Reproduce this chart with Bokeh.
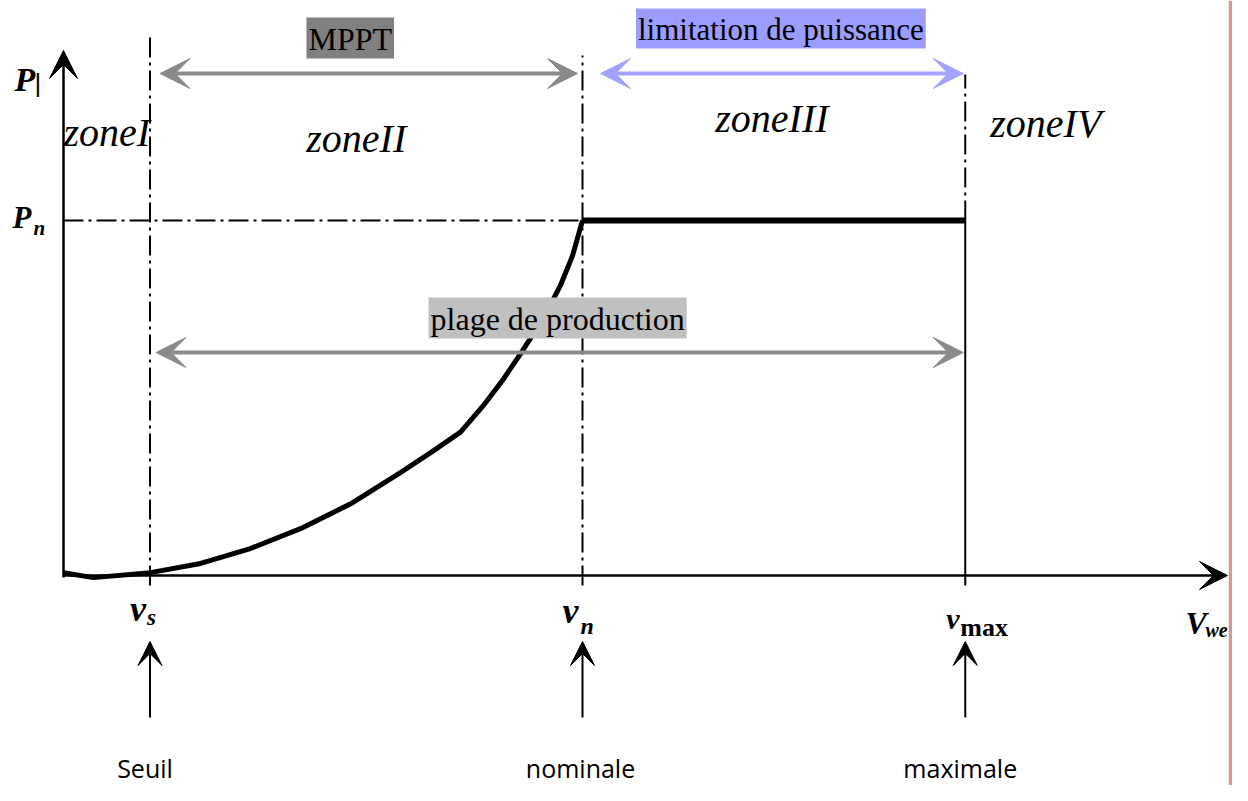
from bokeh.plotting import figure
from bokeh.models import Range1d, Arrow, VeeHead
from bokeh.core.properties import value
from bokeh.embed import file_html
from bokeh.resources import INLINE

# ---------------- data (wind speed in m/s, power in per-unit of Pn) ----------------
v_curve = [0.0, 0.69, 2.01, 3.17, 4.32, 5.48, 6.64, 7.79, 8.49, 9.18, 9.71, 10.17,
           10.57, 10.87, 11.19, 11.49, 11.77, 12.0]
p_curve = [0.008, -0.006, 0.008, 0.034, 0.076, 0.132, 0.202, 0.290, 0.346, 0.404, 0.479, 0.553,
           0.625, 0.682, 0.746, 0.817, 0.901, 1.0]
v_s = 2.0       # seuil
v_n = 12.0      # nominale
v_max = 20.85   # maximale
P_n = 1.0
speed_names = ["Seuil", "nominale", "maximale"]
speeds = [v_s, v_n, v_max]
zone_names = ["zoneI", "zoneII", "zoneIII", "zoneIV"]

# ---------------- layout helpers (picture pixel -> data) ----------------
SX, SY = 43.25, 355.0   # pixels per data unit
X0, Y0 = 63.0, 575.0    # origin position in the picture
W, H = 1232, 785
def ax(px): return (px - X0) / SX
def ay(py): return (Y0 - py) / SY
def dx(px): return px / SX
def dy(px): return px / SY

p = figure(width=W, height=H, output_backend="svg", toolbar_location=None,
           x_range=Range1d(ax(0), ax(W - 4)), y_range=Range1d(ay(H), ay(0)),
           x_axis_type=None, y_axis_type=None,
           min_border_left=0, min_border_top=0, min_border_bottom=0, min_border_right=4,
           border_fill_color="#d99694", background_fill_color="white",
           outline_line_color=None)
p.xgrid.visible = False
p.ygrid.visible = False

SERIF = value("Liberation Serif")
SANS = value("Open Sans")
GRAY = "#8a8a8a"
BLUE = "#a3a3ff"
DASH = "20 5 3 5"

# ---------------- dash-dot guides ----------------
tick = dy(10)
p.segment(x0=[v_s], y0=[-tick], x1=[v_s], y1=[ay(35)], line_color="black", line_width=2, line_dash=DASH)
p.segment(x0=[v_n], y0=[-tick], x1=[v_n], y1=[ay(55)], line_color="black", line_width=2, line_dash=DASH)
p.segment(x0=[v_max], y0=[P_n], x1=[v_max], y1=[ay(74)], line_color="black", line_width=2, line_dash=DASH)
p.segment(x0=[0], y0=[P_n], x1=[v_n], y1=[P_n], line_color="black", line_width=2, line_dash=DASH)
# solid drop at v_max
p.segment(x0=[v_max], y0=[P_n], x1=[v_max], y1=[-tick], line_color="black", line_width=2)

# ---------------- axes ----------------
p.add_layout(Arrow(x_start=0, y_start=-dy(2), x_end=0, y_end=ay(50), line_width=2.5,
                   end=VeeHead(size=28, fill_color="black", line_color="black", line_width=1)))
p.add_layout(Arrow(x_start=0, y_start=0, x_end=ax(W - 5), y_end=0, line_width=2.5,
                   end=VeeHead(size=28, fill_color="black", line_color="black", line_width=1)))

# ---------------- power curve ----------------
p.line(v_curve, p_curve, line_color="black", line_width=5, line_join="round")
p.line([v_n, v_max], [P_n, P_n], line_color="black", line_width=6)

# ---------------- range arrows ----------------
def double_arrow(x0, x1, y, color):
    p.add_layout(Arrow(x_start=x0, y_start=y, x_end=x1, y_end=y, line_width=4, line_color=color,
                       start=VeeHead(size=30, fill_color=color, line_color=color, line_width=1),
                       end=VeeHead(size=30, fill_color=color, line_color=color, line_width=1)))

double_arrow(v_s + dx(10), v_n - dx(5), ay(73), GRAY)
double_arrow(v_n + dx(18), v_max - dx(2), ay(73), BLUE)
double_arrow(v_s + dx(6), v_max - dx(2), ay(352), GRAY)

# boxed labels
PAD = dict(left=2, right=2, top=3, bottom=2)
p.text(x=[(v_s + v_n) / 2 - dx(16)], y=[ay(37.5)], text=["MPPT"], text_font=SERIF,
       text_font_size="32px", text_align="center", text_baseline="middle", text_color="black",
       background_fill_color="#808080", padding=PAD)
p.text(x=[(v_n + v_max) / 2 + dx(7)], y=[ay(28)], text=["limitation de puissance"], text_font=SERIF,
       text_font_size="31px", text_align="center", text_baseline="middle", text_color="black",
       background_fill_color="#9d9dff", padding=PAD)
p.text(x=[(v_s + v_max) / 2], y=[ay(317.5)], text=["plage de production"], text_font=SERIF,
       text_font_size="32px", text_align="center", text_baseline="middle", text_color="black",
       background_fill_color="#c0c0c0", padding=PAD)

# zone labels
p.text(x=[0], y=[ay(132)], text=[zone_names[0]], text_font=SERIF, text_font_style="italic",
       text_font_size="40px", text_align="left", text_baseline="alphabetic", text_color="black")
p.text(x=[(v_s + v_n) / 2 - dx(10), (v_n + v_max) / 2 - dx(2)], y=[ay(138), ay(118)],
       text=zone_names[1:3], text_font=SERIF, text_font_style="italic",
       text_font_size="40px", text_align="center", text_baseline="alphabetic", text_color="black")
p.text(x=[v_max + dx(25)], y=[ay(123)], text=[zone_names[3]], text_font=SERIF, text_font_style="italic",
       text_font_size="40px", text_align="left", text_baseline="alphabetic", text_color="black")

# axis symbols
BI = dict(text_font=SERIF, text_font_style="bold italic", text_color="black", text_baseline="alphabetic")
p.text(x=[ax(14)], y=[ay(79)], text=["P"], text_font_size="34px", text_align="left", **BI)
p.text(x=[ax(34)], y=[ay(82)], text=["|"], text_font=value("Liberation Sans"), text_font_size="26px",
       text_align="left", text_baseline="alphabetic", text_color="black")
p.text(x=[ax(12)], y=[P_n + dy(3)], text=["P"], text_font_size="31px", text_align="left", **BI)
p.text(x=[ax(33)], y=[P_n - dy(7)], text=["n"], text_font_size="21px", text_align="left", **BI)

p.text(x=[v_s - dx(20)], y=[ay(608)], text=["v"], text_font_size="36px", text_align="left", **BI)
p.text(x=[v_s - dx(3)], y=[ay(617)], text=["s"], text_font_size="23px", text_align="left", **BI)
p.text(x=[v_n - dx(20)], y=[ay(610)], text=["v"], text_font_size="36px", text_align="left", **BI)
p.text(x=[v_n - dx(2)], y=[ay(625)], text=["n"], text_font_size="24px", text_align="left", **BI)
p.text(x=[v_max - dx(19)], y=[ay(618)], text=["v"], text_font_size="30px", text_align="left", **BI)
p.text(x=[v_max - dx(5)], y=[ay(627)], text=["max"], text_font=SERIF, text_font_style="bold",
       text_font_size="26px", text_align="left", text_baseline="alphabetic", text_color="black")
p.text(x=[ax(1185)], y=[ay(622)], text=["V"], text_font_size="32px", text_align="left", **BI)
p.text(x=[ax(1205)], y=[ay(629)], text=["we"], text_font_size="20px", text_align="left", **BI)

# ---------------- bottom pointers ----------------
for v in speeds:
    p.add_layout(Arrow(x_start=v, y_start=ay(717), x_end=v, y_end=ay(641), line_width=2,
                       end=VeeHead(size=24, fill_color="black", line_color="black", line_width=1)))

p.text(x=[v_s - dx(5), v_n - dx(2), v_max - dx(5)], y=[ay(767)] * 3, text=speed_names,
       text_font=SANS, text_font_size="25px", text_align="center", text_baseline="alphabetic",
       text_color="black")

open("out.html", "w").write(file_html(p, INLINE))
